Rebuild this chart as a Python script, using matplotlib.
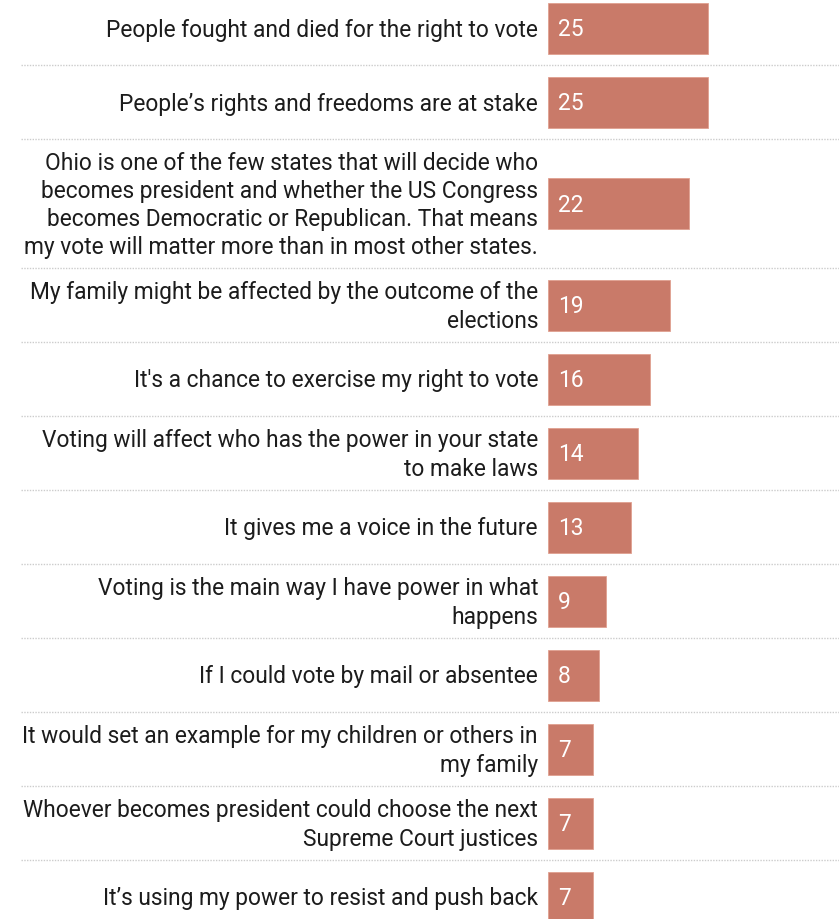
import matplotlib
matplotlib.use("Agg")
import matplotlib.pyplot as plt
import numpy as np

labels = [
    "People fought and died for the right to vote",
    "People\u2019s rights and freedoms are at stake",
    "Ohio is one of the few states that will decide who\nbecomes president and whether the US Congress\nbecomes Democratic or Republican. That means\nmy vote will matter more than in most other states.",
    "My family might be affected by the outcome of the\nelections",
    "It's a chance to exercise my right to vote",
    "Voting will affect who has the power in your state\nto make laws",
    "It gives me a voice in the future",
    "Voting is the main way I have power in what\nhappens",
    "If I could vote by mail or absentee",
    "It would set an example for my children or others in\nmy family",
    "Whoever becomes president could choose the next\nSupreme Court justices",
    "It\u2019s using my power to resist and push back",
]
values = [25, 25, 22, 19, 16, 14, 13, 9, 8, 7, 7, 7]

W, H = 839, 920
DPI = 100
bar_color = "#C97A69"
text_color = "#1c1c1c"

fig = plt.figure(figsize=(W / DPI, H / DPI), dpi=DPI)
ax = fig.add_axes([0, 0, 1, 1])

px_per_unit = 6.4
x0_px = 548
ax.set_xlim(-x0_px / px_per_unit, (W - x0_px) / px_per_unit)
ax.set_ylim(H, 0)
ax.axis("off")

# row heights in pixels derived from number of label lines
nlines = [l.count("\n") + 1 for l in labels]
row_h = np.array([74 if n <= 2 else 74 + 27.5 * (n - 2) for n in nlines])
tops = -8 + np.concatenate([[0], np.cumsum(row_h)[:-1]])
centers = tops + row_h / 2
bottoms = tops + row_h

ax.barh(centers, values, height=51, left=0, color=bar_color,
        edgecolor="#E0A090", linewidth=0.6)

fs = 16.4
for c, lab, v in zip(centers, labels, values):
    ax.text(-10 / px_per_unit, c + 1, lab, ha="right", va="center",
            multialignment="right", fontsize=fs, family="Roboto",
            color=text_color, linespacing=1.29)
    ax.text(10 / px_per_unit, c + 1, str(v), ha="left", va="center",
            fontsize=fs, family="Roboto", color="white")

for b in bottoms[:-1]:
    ax.plot([-(x0_px - 21) / px_per_unit, (W - x0_px) / px_per_unit], [b, b],
            color="#cccccc", linewidth=1.0, linestyle=(0, (1, 1)))

fig.savefig("out.png", dpi=DPI, facecolor="white")
